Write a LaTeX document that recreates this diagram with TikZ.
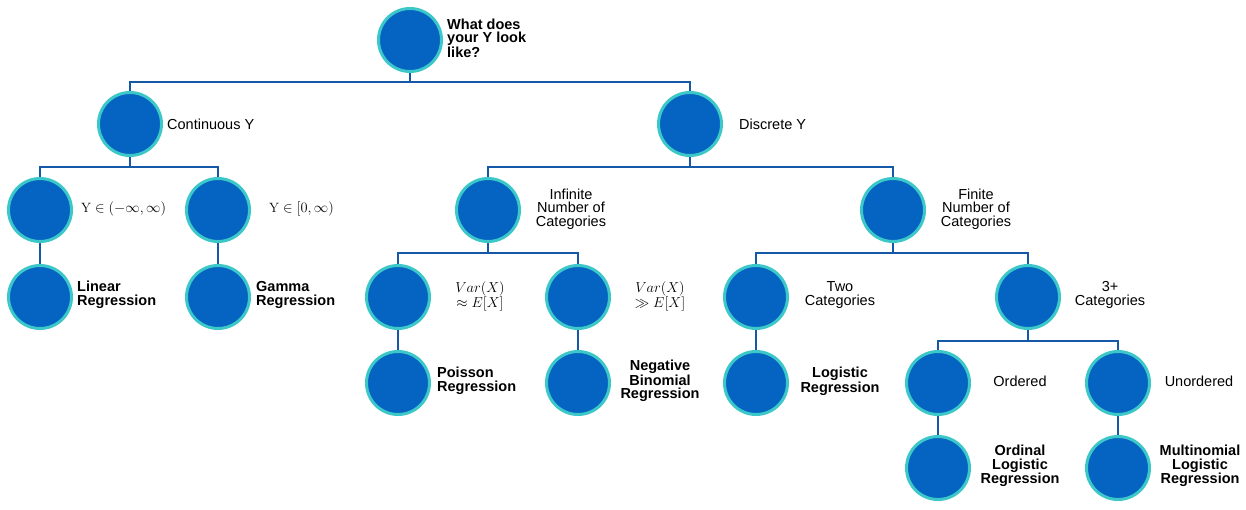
\documentclass[tikz,border=0pt]{standalone}
\usepackage{fontspec}
\setmainfont{Liberation Sans}
\newfontfamily\lmserif{Latin Modern Roman}
\definecolor{nodefill}{HTML}{0563C1}
\definecolor{noderim}{HTML}{3CC8C8}
\definecolor{linkcol}{HTML}{1558A8}
\newcommand{\serifY}{\hbox{\lmserif Y}}
\tikzset{
  dot/.style={circle, fill=nodefill, draw=noderim, line width=3pt, minimum size=63pt, inner sep=0pt},
  link/.style={draw=linkcol, line width=2.5pt},
  lab/.style={font=\fontsize{14.5}{13.5}\selectfont, align=center, inner sep=0pt},
  blab/.style={font=\fontsize{14.5}{13.5}\selectfont\bfseries, align=center, inner sep=0pt},
  mlab/.style={font=\fontsize{13.5}{15}\selectfont, align=center, inner sep=0pt}
}
\begin{document}
\begin{tikzpicture}[x=1pt,y=-1pt]
\useasboundingbox (0,0) rectangle (1246,510);
% nodes
\node[dot] (root) at (410,40) {};
\node[dot] (cont) at (130,124) {};
\node[dot] (disc) at (690,124) {};
\node[dot] (real) at (40,210) {};
\node[dot] (pos) at (218,210) {};
\node[dot] (inf) at (488,210) {};
\node[dot] (fin) at (893,210) {};
\node[dot] (lin) at (40,297) {};
\node[dot] (gam) at (218,297) {};
\node[dot] (veq) at (398,297) {};
\node[dot] (vgt) at (578,297) {};
\node[dot] (two) at (756,297) {};
\node[dot] (three) at (1028,297) {};
\node[dot] (poi) at (398,383) {};
\node[dot] (neg) at (578,383) {};
\node[dot] (logi) at (756,383) {};
\node[dot] (ord) at (938,383) {};
\node[dot] (uno) at (1118,383) {};
\node[dot] (ordl) at (938,468) {};
\node[dot] (mult) at (1118,468) {};
% connectors
\draw[link] (root.south) -- ++(0,9) -| (cont.north);
\draw[link] (root.south) ++(0,9) -| (disc.north);
\draw[link] (cont.south) -- ++(0,10) -| (real.north);
\draw[link] (cont.south) ++(0,10) -| (pos.north);
\draw[link] (disc.south) -- ++(0,10) -| (inf.north);
\draw[link] (disc.south) ++(0,10) -| (fin.north);
\draw[link] (inf.south) -- ++(0,10) -| (veq.north);
\draw[link] (inf.south) ++(0,10) -| (vgt.north);
\draw[link] (fin.south) -- ++(0,10) -| (two.north);
\draw[link] (fin.south) ++(0,10) -| (three.north);
\draw[link] (three.south) -- ++(0,11) -| (ord.north);
\draw[link] (three.south) ++(0,11) -| (uno.north);
\draw[link] (real.south) -- (lin.north);
\draw[link] (pos.south) -- (gam.north);
\draw[link] (veq.south) -- (poi.north);
\draw[link] (vgt.south) -- (neg.north);
\draw[link] (two.south) -- (logi.north);
\draw[link] (ord.south) -- (ordl.north);
\draw[link] (uno.south) -- (mult.north);
% labels
\node[blab, align=left, anchor=west] (troot) at (447,38) {What does\\your Y look\\like?};
\node[lab, anchor=west] (tcont) at (167,124) {Continuous Y};
\node[lab, anchor=west] (tdisc) at (739,124) {Discrete Y};
\node[mlab, anchor=west] (treal) at (81,209) {$\serifY\in(-\infty,\infty)$};
\node[mlab, anchor=west] (tpos) at (269,209) {$\serifY\in[0,\infty)$};
\node[lab] (tinf) at (571,209) {Infinite\\Number of\\Categories};
\node[lab] (tfin) at (976,209) {Finite\\Number of\\Categories};
\node[blab, align=left, anchor=west] (tlin) at (77,295) {Linear\\Regression};
\node[blab, align=left, anchor=west] (tgam) at (256,295) {Gamma\\Regression};
\node[mlab] (tveq) at (480,296) {$Var(X)$\\$\approx E[X]$};
\node[mlab] (tvgt) at (660,296) {$Var(X)$\\$\gg E[X]$};
\node[lab] (ttwo) at (840,295) {Two\\Categories};
\node[lab] (tthree) at (1110,295) {3+\\Categories};
\node[blab, align=left, anchor=west] (tpoi) at (437,381) {Poisson\\Regression};
\node[blab] (tneg) at (660,381) {Negative\\Binomial\\Regression};
\node[blab] (tlogi) at (840,381) {Logistic\\Regression};
\node[lab] (tord) at (1020,381) {Ordered};
\node[lab] (tuno) at (1199,381) {Unordered};
\node[blab] (tordl) at (1020,466) {Ordinal\\Logistic\\Regression};
\node[blab] (tmult) at (1200,466) {Multinomial\\Logistic\\Regression};
\end{tikzpicture}
\end{document}
